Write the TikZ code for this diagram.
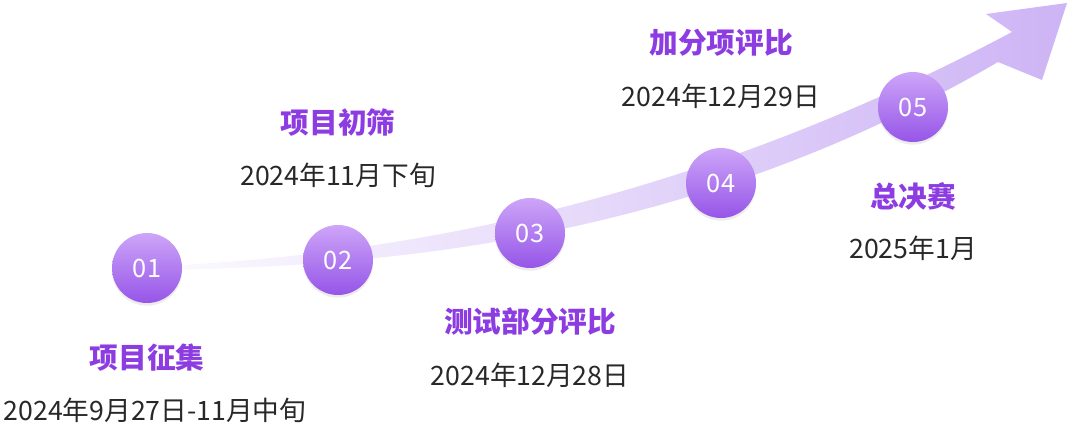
\documentclass[tikz,border=0pt]{standalone}
\usepackage{fontspec}
\setmainfont{Noto Sans CJK SC}
\usepackage{tikz}
\usetikzlibrary{positioning,shadows}
\definecolor{stagepurple}{RGB}{140,60,225}
\definecolor{datetext}{RGB}{40,40,40}
\definecolor{balltop}{RGB}{205,165,248}
\definecolor{ballbot}{RGB}{150,85,232}
\definecolor{trailend}{RGB}{205,180,245}
\tikzset{
  stageball/.style={circle,minimum size=52.5pt,inner sep=0pt,top color=balltop,bottom color=ballbot,
    text=white,font=\fontsize{19}{19}\selectfont,drop shadow={opacity=0.15,shadow xshift=0pt,shadow yshift=-2pt}},
  stagetitle/.style={text=stagepurple,font=\bfseries\fontsize{21.5}{22}\selectfont},
  stagedate/.style={text=datetext,font=\fontsize{20}{20}\selectfont},
}
\begin{document}
\begin{tikzpicture}[x=0.75pt,y=0.75pt,yscale=-1,xscale=1]
    \useasboundingbox (0,0) rectangle (1080,446);
    
    %Arrow trail
    \shade [left color=white,right color=trailend,shading angle=90]
      (100,270) .. controls (400,272) and (700,235) .. (998,62)
      -- (1042,80) -- (1067,3) -- (986,14) -- (1012,32)
      .. controls (700,198) and (400,262) .. (100,268) -- cycle;
    
    %Stage balls
    \node [stageball] (b1) at (147,268) {01};
    \node [stageball] (b2) at (338,260) {02};
    \node [stageball] (b3) at (530,233) {03};
    \node [stageball] (b4) at (721,183) {04};
    \node [stageball] (b5) at (913,107) {05};
    
    % Text Node
    \node [stagetitle] (t1) at (147,358) {项目征集};
    \node [stagedate] (d1) at (155,410) {2024年9月27日-11月中旬};
    % Text Node
    \node [stagetitle] (t2) at (338,123) {项目初筛};
    \node [stagedate] (d2) at (338,175) {2024年11月下旬};
    % Text Node
    \node [stagetitle] (t3) at (530,322) {测试部分评比};
    \node [stagedate] (d3) at (530,375) {2024年12月28日};
    % Text Node
    \node [stagetitle] (t4) at (721,43) {加分项评比};
    \node [stagedate] (d4) at (721,96) {2024年12月29日};
    % Text Node
    \node [stagetitle] (t5) at (913,196) {总决赛};
    \node [stagedate] (d5) at (913,248) {2025年1月};

\end{tikzpicture}
\end{document}
